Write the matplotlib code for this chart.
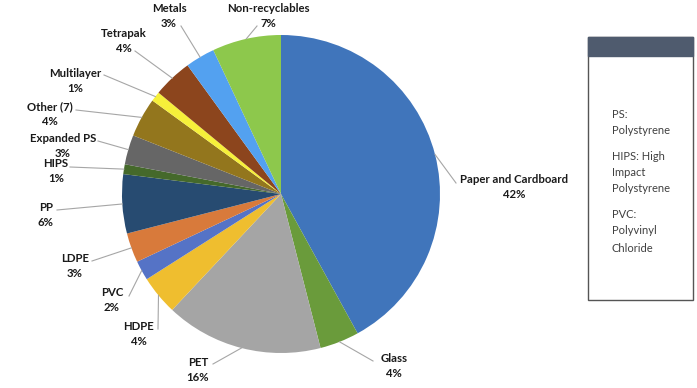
import numpy as np
import matplotlib.pyplot as plt
from matplotlib.patches import Rectangle

# slices, clockwise from 12 o'clock
materials = ["Paper and Cardboard", "Glass", "PET", "HDPE", "PVC", "LDPE", "PP",
             "HIPS", "Expanded PS", "Other (7)", "Multilayer", "Tetrapak",
             "Metals", "Non-recyclables"]
shares = [42, 4, 16, 4, 2, 3, 6, 1, 3, 4, 1, 4, 3, 7]
colors = ["#4075bb", "#6a9b3b", "#a5a5a5", "#efbe2f", "#5573c6", "#d87a3b",
          "#274b71", "#45692b", "#666666", "#93761d", "#f6f03a", "#8c451d",
          "#53a1f0", "#8dc84c"]
glossary_lines = ["PS:", "Polystyrene", "HIPS: High", "Impact", "Polystyrene",
                  "PVC:", "Polyvinyl", "Chloride"]

W, H = 697, 388
cx, cy, R = 281, 194, 159

# label placement (pixel coords, top-left origin): text centre, elbow point
label_pos = {
    "Paper and Cardboard": ((514, 187), (456, 183)),
    "Glass": ((394, 366), (373, 361)),
    "PET": ((198, 370), (213, 364)),
    "HDPE": ((139, 334), (158, 329)),
    "PVC": ((112, 300), (129, 296)),
    "LDPE": ((75, 266), (92, 261)),
    "PP": ((46, 215), (57, 210)),
    "HIPS": ((56, 171), (70, 167)),
    "Expanded PS": ((63, 146), (98, 141)),
    "Other (7)": ((50, 114), (76, 110)),
    "Multilayer": ((75, 81), (104, 75)),
    "Tetrapak": ((124, 41), (135, 51)),
    "Metals": ((169, 16), (181, 26)),
    "Non-recyclables": ((268, 16), (257, 26)),
}
gloss_y = [114, 130, 157, 173, 189, 215, 231, 248]

fig = plt.figure(figsize=(W / 100, H / 100), dpi=100)
ax = fig.add_axes([0, 0, 1, 1])

wedges, _ = ax.pie(shares, colors=colors, startangle=90, counterclock=False,
                   radius=R, center=(cx, H - cy), frame=True,
                   wedgeprops=dict(linewidth=0))
ax.set_xlim(0, W)
ax.set_ylim(0, H)
ax.set_aspect("equal")
ax.axis("off")

font = dict(family=["Lato", "DejaVu Sans"], fontsize=8.2, fontweight="bold",
            color="#1a1a1a")
for w, name, val in zip(wedges, materials, shares):
    mid = np.deg2rad((w.theta1 + w.theta2) / 2)
    px = cx + R * np.cos(mid)
    py = (H - cy) + R * np.sin(mid)
    (tx, ty), (ex, ey) = label_pos[name]
    ax.plot([px, ex], [py, H - ey], color="#a6a6a6", lw=0.8)
    ax.text(tx, H - ty, f"{name}\n{val}%", ha="center", va="center",
            linespacing=1.42, **font)

# glossary box
ax.add_patch(Rectangle((588, H - 300), 105, 263, facecolor="white",
                       edgecolor="#555555", lw=1))
ax.add_patch(Rectangle((588, H - 56), 105, 19, facecolor="#4f5b6e",
                       edgecolor="#4f5b6e", lw=1))
for y, txt in zip(gloss_y, glossary_lines):
    ax.text(612, H - y, txt, ha="left", va="center", fontsize=8,
            color="#404040", family=["Lato", "DejaVu Sans"])

fig.savefig("out.png", dpi=100)
plt.close(fig)
